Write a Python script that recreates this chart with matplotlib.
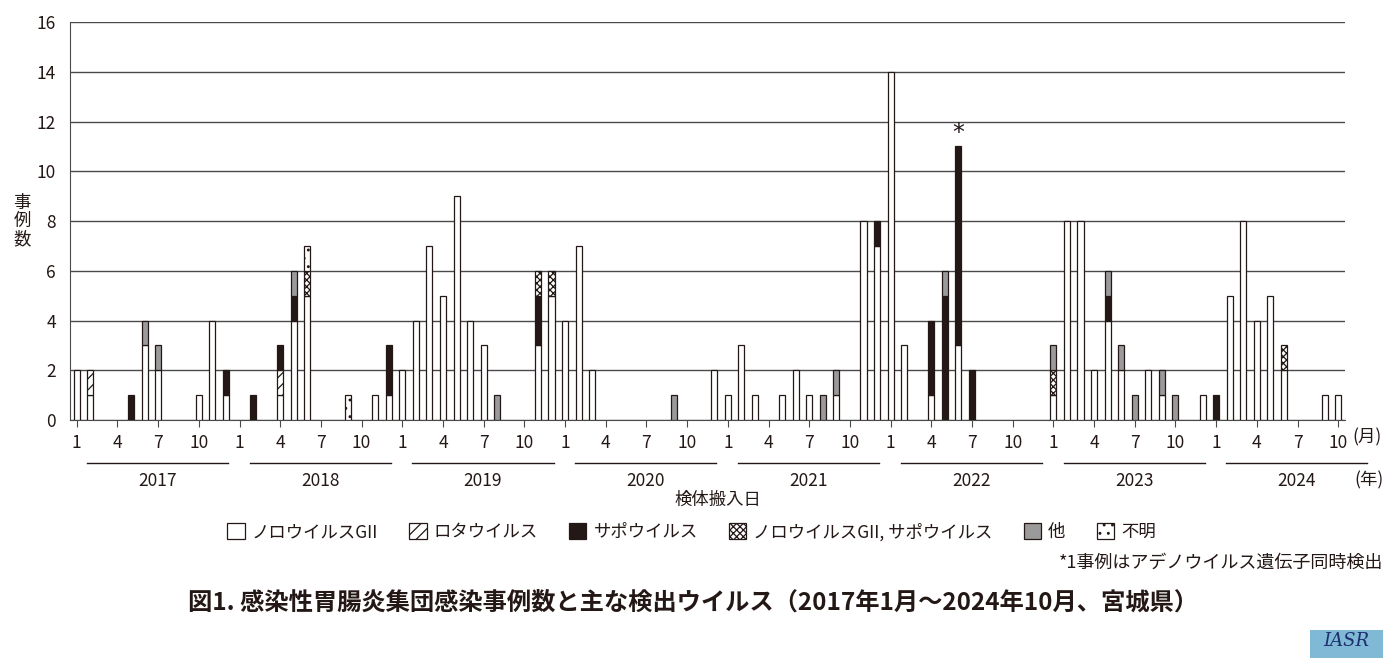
import matplotlib
matplotlib.use("Agg")
import matplotlib.pyplot as plt
import matplotlib.patches as mpatches
import numpy as np

plt.rcParams['font.family'] = ['Noto Sans CJK JP', 'DejaVu Sans']
plt.rcParams['hatch.linewidth'] = 0.9

# 月別の事例数 (2017年1月～2024年10月)
years = [2017, 2018, 2019, 2020, 2021, 2022, 2023, 2024]
month_ticks = [1, 4, 7, 10]

noro = (
    [2, 1, 0, 0, 0, 3, 2, 0, 0, 1, 4, 1] +      # 2017
    [0, 0, 0, 1, 4, 5, 0, 0, 0, 0, 1, 1] +      # 2018
    [2, 4, 7, 5, 9, 4, 3, 0, 0, 0, 3, 5] +      # 2019
    [4, 7, 2, 0, 0, 0, 0, 0, 0, 0, 0, 2] +      # 2020
    [1, 3, 1, 0, 1, 2, 1, 0, 1, 0, 8, 7] +      # 2021
    [14, 3, 0, 1, 0, 3, 0, 0, 0, 0, 0, 0] +     # 2022
    [1, 8, 8, 2, 4, 2, 0, 2, 1, 0, 0, 1] +      # 2023
    [0, 5, 8, 4, 5, 2, 0, 0, 1, 1]              # 2024
)
rota = (
    [0, 1, 0, 0, 0, 0, 0, 0, 0, 0, 0, 0] +
    [0, 0, 0, 1, 0, 0, 0, 0, 0, 0, 0, 0] +
    [0] * 12 + [0] * 12 + [0] * 12 + [0] * 12 + [0] * 12 +
    [0] * 10
)
sapo = (
    [0, 0, 0, 0, 1, 0, 0, 0, 0, 0, 0, 1] +
    [0, 1, 0, 1, 1, 0, 0, 0, 0, 0, 0, 2] +
    [0, 0, 0, 0, 0, 0, 0, 0, 0, 0, 2, 0] +
    [0] * 12 +
    [0, 0, 0, 0, 0, 0, 0, 0, 0, 0, 0, 1] +
    [0, 0, 0, 3, 5, 8, 2, 0, 0, 0, 0, 0] +
    [0, 0, 0, 0, 1, 0, 0, 0, 0, 0, 0, 0] +
    [1, 0, 0, 0, 0, 0, 0, 0, 0, 0]
)
noro_sapo = (
    [0] * 12 +
    [0, 0, 0, 0, 0, 1, 0, 0, 0, 0, 0, 0] +
    [0, 0, 0, 0, 0, 0, 0, 0, 0, 0, 1, 1] +
    [0] * 12 + [0] * 12 + [0] * 12 +
    [1, 0, 0, 0, 0, 0, 0, 0, 0, 0, 0, 0] +
    [0, 0, 0, 0, 0, 1, 0, 0, 0, 0]
)
other = (
    [0, 0, 0, 0, 0, 1, 1, 0, 0, 0, 0, 0] +
    [0, 0, 0, 0, 1, 0, 0, 0, 0, 0, 0, 0] +
    [0, 0, 0, 0, 0, 0, 0, 1, 0, 0, 0, 0] +
    [0, 0, 0, 0, 0, 0, 0, 0, 1, 0, 0, 0] +
    [0, 0, 0, 0, 0, 0, 0, 1, 1, 0, 0, 0] +
    [0, 0, 0, 0, 1, 0, 0, 0, 0, 0, 0, 0] +
    [1, 0, 0, 0, 1, 1, 1, 0, 1, 1, 0, 0] +
    [0] * 10
)
unknown = (
    [0] * 12 +
    [0, 0, 0, 0, 0, 1, 0, 0, 1, 0, 0, 0] +
    [0] * 12 + [0] * 12 + [0] * 12 + [0] * 12 + [0] * 12 +
    [0] * 10
)

labels = ['ノロウイルスGII', 'ロタウイルス', 'サポウイルス',
          'ノロウイルスGII, サポウイルス', '他', '不明']

ink = '#231815'
styles = [
    dict(facecolor='white', hatch=None),
    dict(facecolor='white', hatch='///'),
    dict(facecolor=ink, hatch=None),
    dict(facecolor='white', hatch='xxxxx'),
    dict(facecolor='#9a9a9a', hatch=None),
    dict(facecolor='white', hatch='..'),
]

series = [noro, rota, sapo, noro_sapo, other, unknown]
x = np.arange(len(noro))

fig = plt.figure(figsize=(14, 6.71), dpi=100)
ax = fig.add_axes([0.05, 0.374, 0.9107, 0.593])

bottom = np.zeros(len(x))
for vals, st in zip(series, styles):
    vals = np.array(vals)
    m = vals > 0  # 0件の月は描かない
    ax.bar(x[m], vals[m], 0.45, bottom=bottom[m], edgecolor=ink,
           linewidth=0.9, zorder=3, **st)
    bottom += vals

# *印 (2022年6月)
star_idx = 5 * 12 + 5
ax.text(x[star_idx], bottom[star_idx] + 0.05, '*', ha='center', va='bottom',
        fontsize=17, color=ink, family='DejaVu Sans')

ax.set_xlim(-0.5, 93.5)
ax.set_ylim(0, 16)
ax.set_yticks(range(0, 17, 2))
ax.yaxis.grid(True, color='#4a4a4a', linewidth=1.0, zorder=0)
for s in ['top', 'right']:
    ax.spines[s].set_visible(False)
ax.spines['left'].set_color('#4a4a4a')
ax.spines['bottom'].set_color('#4a4a4a')
ax.tick_params(axis='y', length=0, pad=10, labelsize=12.5, labelcolor=ink)

tick_pos = [i * 12 + m - 1 for i in range(len(years)) for m in month_ticks
            if i * 12 + m - 1 < len(x)]
tick_lab = [str(m) for i in range(len(years)) for m in month_ticks
            if i * 12 + m - 1 < len(x)]
ax.set_xticks(tick_pos)
ax.set_xticklabels(tick_lab)
ax.tick_params(axis='x', length=5, color='#4a4a4a', pad=5, labelsize=12.5,
               labelcolor=ink)

trans = ax.get_xaxis_transform()
for i, yr in enumerate(years):
    ax.plot([i * 12 + 0.75, i * 12 + 11.15], [-0.108, -0.108], color=ink,
            linewidth=1.0, transform=trans, clip_on=False)
    ax.text(i * 12 + 5.95, -0.152, str(yr), transform=trans, ha='center',
            va='center', fontsize=12.5, color=ink)

fig.text(1352 / 1400, 1 - 437 / 671, '(月)', ha='left', va='center', fontsize=12.5, color=ink)
fig.text(1354 / 1400, 1 - 480 / 671, '(年)', ha='left', va='center', fontsize=12.5, color=ink)
fig.text(718 / 1400, 1 - 500 / 671, '検体搬入日', ha='center', va='center',
         fontsize=12.5, color=ink)
fig.text(22 / 1400, 1 - 221 / 671, '事\n例\n数', ha='center', va='center',
         fontsize=12.5, color=ink, linespacing=1.0)

handles = [mpatches.Patch(edgecolor=ink, linewidth=0.9, label=l, **st)
           for l, st in zip(labels, styles)]
fig.legend(handles=handles, loc='center', bbox_to_anchor=(0.494, 1 - 532 / 671),
           ncol=6, frameon=False, fontsize=12.5, handlelength=1.0,
           handleheight=1.0, handletextpad=0.4, columnspacing=1.8,
           labelcolor=ink)

fig.text(0.988, 1 - 563 / 671, '*1事例はアデノウイルス遺伝子同時検出', ha='right',
         va='center', fontsize=13, color=ink)
fig.text(0.495, 1 - 603 / 671,
         '図1. 感染性胃腸炎集団感染事例数と主な検出ウイルス（2017年1月～2024年10月、宮城県）',
         ha='center', va='center', fontsize=17.5, fontweight='bold', color=ink)

# IASR ロゴ
logo = mpatches.Rectangle((1310 / 1400, 1 - 658 / 671), 73 / 1400, 28 / 671,
                          transform=fig.transFigure, facecolor='#7fb9d6',
                          edgecolor='none')
fig.patches.append(logo)
fig.text(1346 / 1400, 1 - 641 / 671, 'IASR', ha='center', va='center',
         fontsize=13, fontstyle='italic', family='DejaVu Serif', color='#1d2f6f')

fig.savefig('out.png', dpi=100)
